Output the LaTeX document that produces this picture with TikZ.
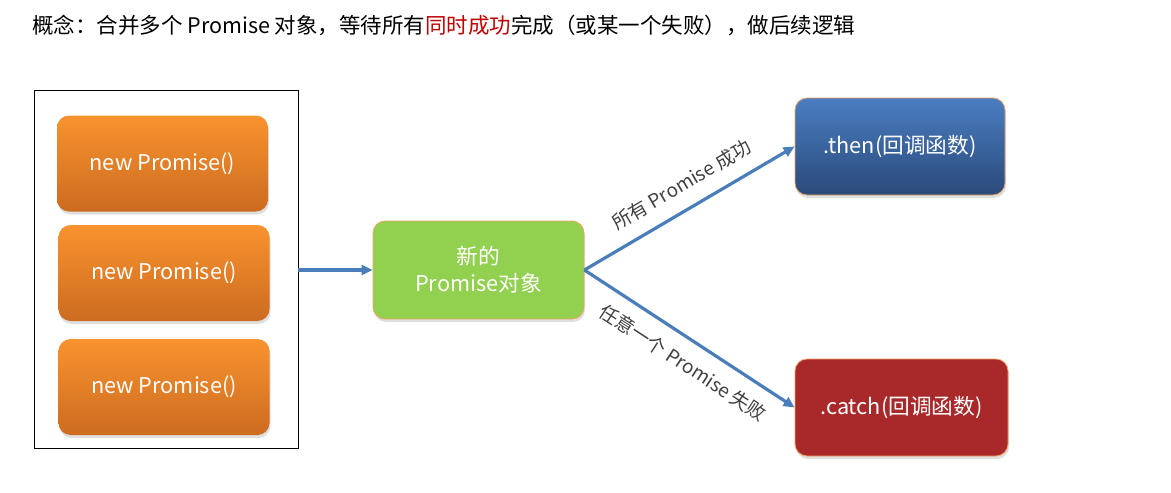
\documentclass[tikz,border=0pt]{standalone}
\usepackage{fontspec}
\newfontfamily\cjk{Noto Sans CJK SC}
\usetikzlibrary{arrows.meta,shadows}
\definecolor{arrowblue}{HTML}{4A7EBB}
\definecolor{orangetop}{HTML}{F8932E}
\definecolor{orangebot}{HTML}{CD6B20}
\definecolor{bluetop}{HTML}{4A7EC1}
\definecolor{bluebot}{HTML}{2A4A7A}
\definecolor{catchred}{HTML}{A9292A}
\definecolor{okgreen}{HTML}{92D050}
\definecolor{edgeorange}{HTML}{F2A264}
\definecolor{titlered}{HTML}{C00000}
\definecolor{labelgray}{HTML}{404040}
\tikzset{
  box/.style={rounded corners=12pt, draw=edgeorange, line width=0.8pt, inner sep=0pt,
    text=white, align=center, font=\cjk\fontsize{21.7}{27}\selectfont,
    drop shadow={opacity=0.25, shadow xshift=1pt, shadow yshift=-3pt}},
  orangebox/.style={box, top color=orangetop, bottom color=orangebot,
    minimum width=211pt, minimum height=96pt, draw=none},
  link/.style={draw=arrowblue, line width=3.2pt, -{Triangle[length=11pt,width=10pt]}},
  lbl/.style={text=labelgray, font=\cjk\fontsize{19}{22}\selectfont, sloped, inner sep=0pt}
}
\begin{document}
\begin{tikzpicture}[x=1pt,y=-1pt]
\useasboundingbox (0,0) rectangle (1171,493);
\node[anchor=west, inner sep=0pt, font=\cjk\fontsize{21.5}{24}\selectfont] (title) at (32,25)
  {概念：合并多个 Promise 对象，等待所有\textcolor{titlered}{同时成功}完成（或某一个失败），做后续逻辑};
\node[draw=black, line width=0.8pt, minimum width=264pt, minimum height=358pt, inner sep=0pt] (group) at (166,269.5) {};
\node[orangebox] (p1) at (162.5,163.5) {new Promise()};
\node[orangebox] (p2) at (164,273) {new Promise()};
\node[orangebox] (p3) at (164,387) {new Promise()};
\node[box, fill=okgreen, minimum width=211pt, minimum height=98pt] (new) at (478.5,270) {新的\\Promise对象};
\node[box, top color=bluetop, bottom color=bluebot, minimum width=210pt, minimum height=97pt] (then) at (900,146.5) {.then(回调函数)};
\node[box, fill=catchred, minimum width=213pt, minimum height=97pt] (catch) at (901.5,407.5) {.catch(回调函数)};
\draw[link] (group.east |- new.west) -- (new.west);
\draw[link] (new.east) -- (then.west) node[lbl, pos=0.52, above=14pt] {所有 Promise 成功};
\draw[link] (new.east) -- (catch.west) node[lbl, pos=0.53, below=13pt] {任意一个 Promise 失败};
\end{tikzpicture}
\end{document}
